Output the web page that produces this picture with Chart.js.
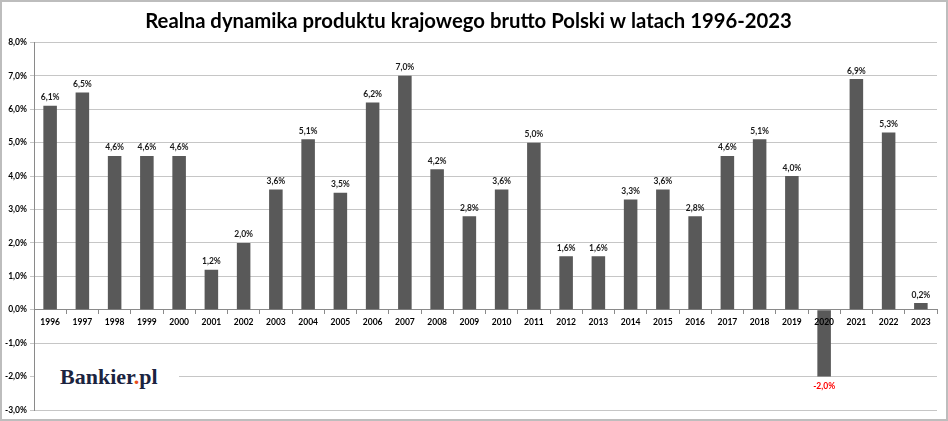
<!DOCTYPE html>
<html><head><meta charset="utf-8">
<script src="https://cdn.jsdelivr.net/npm/chart.js@4"></script>
<style>
html,body{margin:0;padding:0;background:#fff;}
#wrap{position:relative;width:948px;height:421px;overflow:hidden;}
canvas{display:block;}
#logo{position:absolute;left:35px;top:364px;background:#fff;padding:0 21px 0 25px;font-family:"Liberation Serif",serif;font-weight:bold;font-size:22px;letter-spacing:0px;color:#1b2440;line-height:26px;white-space:nowrap;}
#logo span{color:#e8501c;}
</style></head>
<body><div id="wrap"><canvas id="c" width="948" height="421"></canvas><div id="logo">Bankier<span>.</span>pl</div></div>
<script>
const titleText = "Realna dynamika produktu krajowego brutto Polski w latach 1996-2023";
const years = ["1996","1997","1998","1999","2000","2001","2002","2003","2004","2005","2006","2007","2008","2009","2010","2011","2012","2013","2014","2015","2016","2017","2018","2019","2020","2021","2022","2023"];
const growth = [6.1,6.5,4.6,4.6,4.6,1.2,2.0,3.6,5.1,3.5,6.2,7.0,4.2,2.8,3.6,5.0,1.6,1.6,3.3,3.6,2.8,4.6,5.1,4.0,-2.0,6.9,5.3,0.2];
const yMin = -3, yMax = 8, yStep = 1;

const fmt = v => v.toFixed(1).replace('.', ',') + '%';
const FONT = 'Lato, "Open Sans", sans-serif';

const frame = {
  id: 'frame',
  beforeDraw(chart) {
    const c = chart.ctx;
    c.save(); c.fillStyle = '#fff'; c.fillRect(0, 0, chart.width, chart.height); c.restore();
  },
  afterDraw(chart) {
    const c = chart.ctx;
    c.save(); c.strokeStyle = '#bdbdbd'; c.lineWidth = 2;
    c.strokeRect(1, 1, chart.width - 2, chart.height - 2); c.restore();
  }
};

const valueLabels = {
  id: 'valueLabels',
  afterDatasetsDraw(chart) {
    const c = chart.ctx;
    const meta = chart.getDatasetMeta(0);
    c.save();
    c.font = 'bold 8.5px ' + FONT;
    c.textAlign = 'center';
    meta.data.forEach((bar, i) => {
      const v = growth[i];
      if (v >= 0) {
        c.fillStyle = '#1a1a1a'; c.textBaseline = 'bottom';
        c.fillText(fmt(v), bar.x, bar.y - 4);
      } else {
        c.fillStyle = '#ff0000'; c.textBaseline = 'top';
        c.fillText(fmt(v), bar.x, bar.y + 5);
      }
    });
    c.restore();
  }
};

new Chart(document.getElementById('c'), {
  type: 'bar',
  data: {
    labels: years,
    datasets: [{
      data: growth,
      backgroundColor: '#595959',
      borderWidth: 0,
      categoryPercentage: 1,
      barPercentage: 0.42
    }]
  },
  options: {
    responsive: false,
    devicePixelRatio: 1,
    animation: false,
    layout: { padding: { top: 1, right: 11, bottom: 11, left: 0 } },
    plugins: {
      legend: { display: false },
      tooltip: { enabled: false },
      title: {
        display: true, text: titleText, color: '#000',
        font: { family: FONT, size: 20.3, weight: 'bold' },
        padding: { top: 8, bottom: 9 }
      }
    },
    scales: {
      x: {
        position: { y: 0 },
        grid: { offset: true, drawOnChartArea: false, drawTicks: true, tickLength: 4, color: '#8a8a8a' },
        border: { display: true, color: '#8a8a8a' },
        ticks: { z: 1, color: '#000', font: { family: FONT, size: 8.5, weight: 'bold' }, padding: 3, maxRotation: 0, autoSkip: false }
      },
      y: {
        min: yMin, max: yMax,
        afterFit(scale) { scale.width = 34; },
        grid: { color: '#c6c6c6', tickLength: 4, drawTicks: true },
        border: { display: true, color: '#8a8a8a' },
        ticks: { stepSize: yStep, color: '#000', padding: 3, font: { family: FONT, size: 8.5, weight: 'bold' }, callback: v => fmt(v) }
      }
    }
  },
  plugins: [frame, valueLabels]
});
</script>
</body></html>
